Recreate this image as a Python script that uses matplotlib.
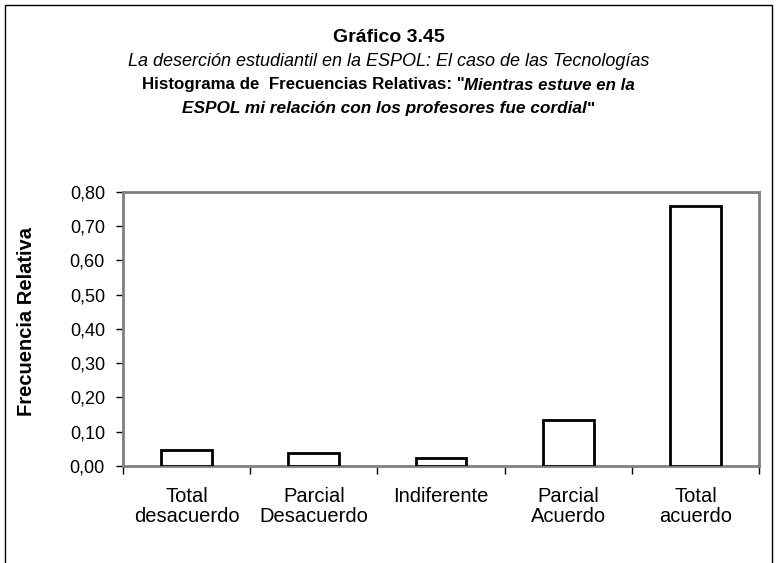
import numpy as np
import matplotlib.pyplot as plt
from matplotlib.patches import Rectangle

plt.rcParams['font.family'] = ['Liberation Sans', 'DejaVu Sans']

# Categorias de la escala y frecuencias relativas
categorias = ["Total\ndesacuerdo", "Parcial\nDesacuerdo", "Indiferente",
              "Parcial\nAcuerdo", "Total\nacuerdo"]
frecuencias = [0.048, 0.037, 0.024, 0.133, 0.758]
marcas_y = [0.0, 0.1, 0.2, 0.3, 0.4, 0.5, 0.6, 0.7, 0.8]
etiquetas_y = ["0,00", "0,10", "0,20", "0,30", "0,40", "0,50", "0,60", "0,70", "0,80"]

fig = plt.figure(figsize=(7.77, 5.63), dpi=100)
ax = fig.add_axes([0.1583, 0.1723, 0.8185, 0.4867])

x = np.arange(len(categorias))
ax.bar(x, frecuencias, width=0.4, color="white", edgecolor="black", linewidth=2, zorder=3)

ax.set_xlim(-0.5, len(categorias) - 0.5)
ax.set_ylim(0, 0.8)
ax.set_yticks(marcas_y)
ax.set_yticklabels(etiquetas_y, fontsize=13)

# ticks del eje x entre categorias, etiquetas centradas
ax.set_xticks(np.arange(-0.5, len(categorias), 1.0))
ax.set_xticklabels([])
ax.set_xticks(x, minor=True)
ax.set_xticklabels(categorias, minor=True, fontsize=14.5, linespacing=1.1)
ax.tick_params(axis="x", which="minor", length=0, pad=15)
ax.tick_params(axis="x", which="major", length=6, width=1, color="black")
ax.tick_params(axis="y", length=5, width=1, color="black", pad=8)

for s in ax.spines.values():
    s.set_color("#808080")
    s.set_linewidth(2)

fig.text(27 / 777, 1 - 322 / 563, "Frecuencia Relativa", rotation=90, ha="center",
         va="center", fontsize=14.5, fontweight="bold")

# Titulos
fig.text(0.5, 1 - 37 / 563, "Gráfico 3.45", ha="center", va="center",
         fontsize=14, fontweight="bold")
fig.text(0.5, 1 - 61 / 563, "La deserción estudiantil en la ESPOL: El caso de las Tecnologías",
         ha="center", va="center", fontsize=13, style="italic")


def linea_mixta(y, partes, tam):
    # coloca varios textos seguidos y centra el conjunto
    r = fig.canvas.get_renderer()
    textos = []
    for txt, estilo in partes:
        t = fig.text(0, y, txt, ha="left", va="center", fontsize=tam,
                     fontweight="bold", style=estilo)
        textos.append(t)
    anchos = [t.get_window_extent(r).width for t in textos]
    total = sum(anchos)
    x0 = (fig.bbox.width - total) / 2
    for t, w in zip(textos, anchos):
        t.set_x(x0 / fig.bbox.width)
        x0 += w


linea_mixta(1 - 85 / 563, [('Histograma de  Frecuencias Relativas: "', "normal"),
                           ("Mientras estuve en la", "italic")], 12.2)
linea_mixta(1 - 109 / 563, [("ESPOL mi relación con los profesores fue cordial", "italic"),
                            ('"', "normal")], 12.4)

# marco exterior
fig.patches.append(Rectangle((5 / 777, -0.05), 767 / 777, 1.05 - 5 / 563,
                             transform=fig.transFigure, fill=False,
                             edgecolor="black", linewidth=1))

fig.savefig("out.png", dpi=100)
